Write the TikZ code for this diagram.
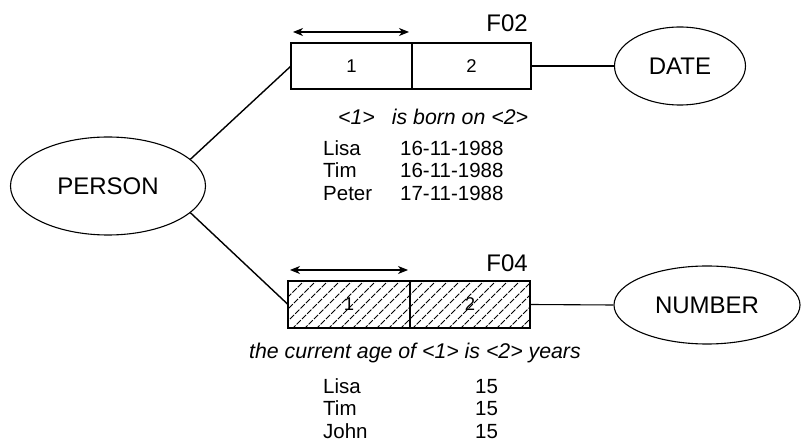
\documentclass[tikz,border=0pt]{standalone}
\usepackage{fontspec}
\setmainfont{Liberation Sans}
\usetikzlibrary{shapes.geometric,arrows.meta}
\begin{document}
\begin{tikzpicture}[x=1pt,y=-1pt,
  ent/.style={draw,ellipse,line width=1.1pt,inner sep=0pt,font=\fontsize{24}{28}\selectfont},
  cell/.style={draw,line width=1.1pt,minimum height=46pt,inner sep=0pt,outer sep=0pt,font=\fontsize{18.5}{22}\selectfont},
  conn/.style={line width=1.4pt},
  spanarrow/.style={line width=1.1pt,{Stealth[length=10pt,width=8pt,inset=3pt]}-{Stealth[length=10pt,width=8pt,inset=3pt]}},
  lbl/.style={font=\fontsize{24}{28}\selectfont,inner sep=0pt},
  captext/.style={font=\fontsize{21.3}{24}\selectfont\itshape,inner sep=0pt},
  tab/.style={font=\fontsize{20.5}{24}\selectfont,inner sep=0pt,anchor=west,text height=15pt,text depth=4pt},
  hatch/.style={line width=0.8pt,dash pattern=on 6pt off 1.5pt}]
\useasboundingbox (0,0) rectangle (801,446);

% entities
\node[ent,minimum width=195pt,minimum height=98pt] (person) at (108,186) {PERSON};
\node[ent,minimum width=131pt,minimum height=78pt] (date) at (680,66) {DATE};
\node[ent,minimum width=186pt,minimum height=78pt] (number) at (707,305) {NUMBER};

% F02 fact
\node[cell,minimum width=121pt] (a1) at (351.5,66) {1};
\node[cell,minimum width=119pt,anchor=west] (a2) at (a1.east) {2};
\node[lbl,anchor=east] (f02) at (528,23) {F02};
\coordinate (a1l) at (293,32);
\coordinate (a1r) at (409,32);
\draw[spanarrow] (a1l) -- (a1r);
\node[captext,anchor=west] (capa) at (338,117) {<1>\hspace{17pt}is born on <2>};

% F04 fact
\begin{scope}
  \clip (288,281) rectangle (530,328);
  \foreach \i in {0,...,24} {
    \draw[hatch] (250+\i*12,335) -- (310+\i*12,275);
  }
\end{scope}
\node[cell,minimum width=122pt,minimum height=47pt] (b1) at (349,304.5) {1};
\node[cell,minimum width=120pt,minimum height=47pt,anchor=west] (b2) at (b1.east) {2};
\node[lbl,anchor=east] (f04) at (528,263) {F04};
\coordinate (b1l) at (290,270);
\coordinate (b1r) at (408,270);
\draw[spanarrow] (b1l) -- (b1r);
\node[captext] (capb) at (415,353) {the current age of <1> is <2> years};

% connectors
\draw[conn] (person.18) -- (a1.west);
\draw[conn] (person.-18) -- (b1.west);
\draw[line width=1.1pt] (a2.east) -- (date.west);
\draw[line width=1.1pt] (b2.east) -- (number.west);

% populations
\node[tab] (p1) at (323,150) {Lisa};
\node[tab] (p2) at (323,172.5) {Tim};
\node[tab] (p3) at (323,195) {Peter};
\node[tab] (d1) at (400,150) {16-11-1988};
\node[tab] (d2) at (400,172.5) {16-11-1988};
\node[tab] (d3) at (400,195) {17-11-1988};

\node[tab] (q1) at (323,388) {Lisa};
\node[tab] (q2) at (323,410.5) {Tim};
\node[tab] (q3) at (323,433) {John};
\node[tab] (n1) at (475,388) {15};
\node[tab] (n2) at (475,410.5) {15};
\node[tab] (n3) at (475,433) {15};
\end{tikzpicture}
\end{document}
